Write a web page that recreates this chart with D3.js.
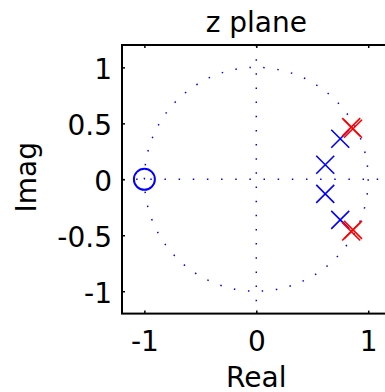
<!DOCTYPE html>
<html>
<head>
<meta charset="utf-8">
<script src="https://cdn.jsdelivr.net/npm/d3@7"></script>
<style>
  html, body { margin: 0; padding: 0; background: #fff; overflow: hidden; }
  svg { display: block; }
  text { font-family: "DejaVu Sans", "Liberation Sans", sans-serif; fill: #000; }
</style>
</head>
<body>
<script>
// Pole/zero locations (real and imaginary parts)
const zerosRe = [-1];
const zerosIm = [0];
const polesRe = [0.75, 0.616, 0.616, 0.75];
const polesIm = [0.362, 0.13, -0.13, -0.362];
const poles2Re = [0.848, 0.864, 0.848, 0.864];
const poles2Im = [0.466, 0.452, -0.466, -0.452];

const xTicks = [-1, 0, 1];
const yTicks = [-1, -0.5, 0, 0.5, 1];
const axisLimits = [-1.2, 1.2];

const W = 385, H = 392;
const plotLeft = 122, plotTop = 45, side = 268.6;

const svg = d3.select("body").append("svg")
  .attr("width", W).attr("height", H);

const x = d3.scaleLinear().domain(axisLimits).range([plotLeft, plotLeft + side]);
const y = d3.scaleLinear().domain(axisLimits).range([plotTop + side, plotTop]);

const blue = "#0000ff", red = "#ff0000";

// dotted unit circle
const r = x(1) - x(0);
svg.append("circle")
  .attr("cx", x(0)).attr("cy", y(0)).attr("r", r)
  .attr("pathLength", 700)
  .attr("fill", "none").attr("stroke", blue)
  .attr("stroke-width", 1.5)
  .attr("stroke-dasharray", "1.5 12.5");

// dotted real and imaginary axes
svg.append("line")
  .attr("x1", x(axisLimits[0])).attr("x2", x(axisLimits[1]))
  .attr("y1", y(0)).attr("y2", y(0))
  .attr("stroke", blue).attr("stroke-width", 1.5)
  .attr("stroke-dasharray", "1.5 12.65");
svg.append("line")
  .attr("x1", x(0)).attr("x2", x(0))
  .attr("y1", y(axisLimits[1])).attr("y2", y(axisLimits[0]))
  .attr("stroke", blue).attr("stroke-width", 1.5)
  .attr("stroke-dasharray", "1.5 12.65");

// x-marker helper
const xs = 9;
function crosses(re, im, color) {
  const pts = re.map((v, i) => [v, im[i]]);
  svg.append("g").selectAll("path").data(pts).join("path")
    .attr("d", d => {
      const cx = x(d[0]), cy = y(d[1]);
      return `M${cx - xs},${cy - xs}L${cx + xs},${cy + xs}M${cx - xs},${cy + xs}L${cx + xs},${cy - xs}`;
    })
    .attr("fill", "none").attr("stroke", color).attr("stroke-width", 1.6);
}

crosses(polesRe, polesIm, blue);
crosses(poles2Re, poles2Im, red);

// zeros
svg.append("g").selectAll("circle")
  .data(zerosRe.map((v, i) => [v, zerosIm[i]]))
  .join("circle")
  .attr("cx", d => x(d[0])).attr("cy", d => y(d[1])).attr("r", 10.5)
  .attr("fill", "none").attr("stroke", blue).attr("stroke-width", 2);

// axes
const fs = 28;
const fmt = d => String(d);
const gx = svg.append("g").attr("transform", `translate(0,${plotTop + side})`)
  .call(d3.axisBottom(x).tickValues(xTicks).tickSize(-3).tickSizeOuter(0).tickPadding(18)
    .tickFormat(fmt));
const gxTop = svg.append("g").attr("transform", `translate(0,${plotTop})`)
  .call(d3.axisTop(x).tickValues(xTicks).tickSize(-3).tickSizeOuter(0).tickFormat(""));
const gy = svg.append("g").attr("transform", `translate(${plotLeft},0)`)
  .call(d3.axisLeft(y).tickValues(yTicks).tickSize(-3).tickSizeOuter(0).tickPadding(10)
    .tickFormat(fmt));
const gyRight = svg.append("g").attr("transform", `translate(${plotLeft + side},0)`)
  .call(d3.axisRight(y).tickValues(yTicks).tickSize(-3).tickSizeOuter(0).tickFormat(""));

[gx, gxTop, gy, gyRight].forEach(g => {
  g.select(".domain").remove();
  g.attr("font-family", null).attr("font-size", null);
  g.selectAll(".tick line").attr("stroke", "#000").attr("stroke-width", 1.5);
  g.selectAll(".tick text").attr("font-size", fs).attr("fill", "#000");
});
gy.selectAll(".tick text").attr("dy", "0.4em");

// axes box
svg.append("rect")
  .attr("x", plotLeft).attr("y", plotTop).attr("width", side).attr("height", side)
  .attr("fill", "none").attr("stroke", "#000").attr("stroke-width", 2);

// titles
svg.append("text").attr("x", x(0)).attr("y", 31.5)
  .attr("text-anchor", "middle").attr("font-size", fs).text("z plane");
svg.append("text").attr("x", x(0)).attr("y", 386.5)
  .attr("text-anchor", "middle").attr("font-size", fs).text("Real");
svg.append("text")
  .attr("transform", `translate(36,${y(0) - 2}) rotate(-90)`)
  .attr("text-anchor", "middle").attr("font-size", fs).text("Imag");
</script>
</body>
</html>
